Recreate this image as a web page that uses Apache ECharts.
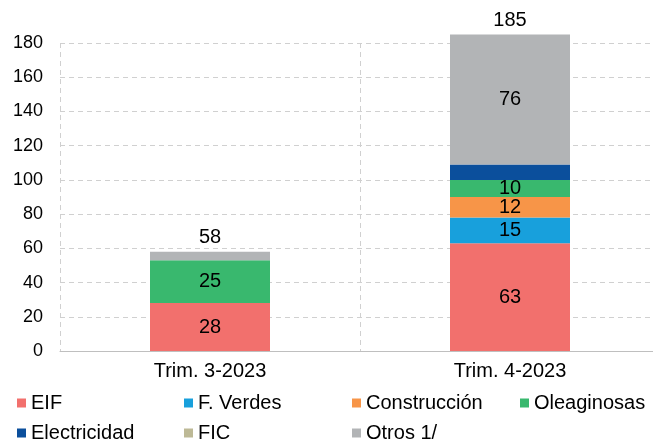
<!DOCTYPE html>
<html>
<head>
<meta charset="utf-8">
<script src="https://cdn.jsdelivr.net/npm/echarts@6/dist/echarts.min.js"></script>
<style>
  html, body { margin: 0; padding: 0; background: #fff; overflow: hidden; }
  #chart { width: 670px; height: 441px; }
</style>
</head>
<body>
<div id="chart"></div>
<script>
const categories = ["Trim. 3-2023", "Trim. 4-2023"];
const seriesNames = ["EIF", "F. Verdes", "Construcción", "Oleaginosas", "Electricidad", "FIC", "Otros 1/"];
const eif = [28, 63];
const fVerdes = [0, 15];
const construccion = [0, 12];
const oleaginosas = [25, 10];
const electricidad = [0, 9];
const fic = [0, 0];
const otros = [5, 76];
const totals = [58, 185];
const yTicks = [0, 20, 40, 60, 80, 100, 120, 140, 160, 180];

const colors = ["#F2706D", "#18A0DC", "#F79548", "#39B86E", "#0B4F9C", "#BDB996", "#B2B4B6"];
const values = [eif, fVerdes, construccion, oleaginosas, electricidad, fic, otros];
const font = "Liberation Sans, Arial, Helvetica, sans-serif";

const chart = echarts.init(document.getElementById("chart"));

// las etiquetas internas solo se muestran para segmentos grandes
const barSeries = seriesNames.map((name, i) => ({
	name: name,
	type: "bar",
	stack: "total",
	barWidth: 120,
	clip: false,
	itemStyle: { color: colors[i] },
	data: values[i].map((v) => ({
		value: v,
		label: {
			show: v >= 10,
			position: "inside",
			color: "#000",
			fontSize: 20,
			fontFamily: font,
		},
	})),
}));

// serie invisible para poner el total arriba de cada barra
barSeries.push({
	name: "total",
	type: "bar",
	stack: "total",
	barWidth: 120,
	clip: false,
	itemStyle: { color: "transparent" },
	data: totals.map(() => 0),
	label: {
		show: true,
		position: "top",
		distance: 4,
		color: "#000",
		fontSize: 20,
		fontFamily: font,
		formatter: (p) => totals[p.dataIndex],
	},
});

const legendX = [17, 184, 352, 520];
const legends = seriesNames.map((name, i) => ({
	data: [name],
	left: legendX[i % 4],
	top: i < 4 ? 393 : 423,
	padding: 0,
	itemWidth: 9,
	itemHeight: 9,
	icon: "rect",
	textStyle: { fontSize: 20, color: "#000", fontFamily: font },
	selectedMode: false,
}));

const option = {
	animation: false,
	legend: legends,
	grid: { left: 60, width: 600, top: 43, bottom: 90 },
	xAxis: {
		type: "category",
		data: categories,
		axisLine: { lineStyle: { color: "#BFBFBF", width: 1 } },
		axisTick: { show: false },
		axisLabel: { color: "#000", fontSize: 20, fontFamily: font, margin: 10 },
		splitLine: { show: true, lineStyle: { color: "#D0D0D0", type: [5, 4] } },
	},
	yAxis: {
		type: "value",
		min: yTicks[0],
		max: yTicks[yTicks.length - 1],
		interval: 20,
		axisLine: { show: false },
		axisTick: { show: false },
		axisLabel: { color: "#000", fontSize: 18, fontFamily: font, margin: 17 },
		splitLine: { lineStyle: { color: "#D0D0D0", type: [5, 4] } },
	},
	series: barSeries,
};

chart.setOption(option);
</script>
</body>
</html>
